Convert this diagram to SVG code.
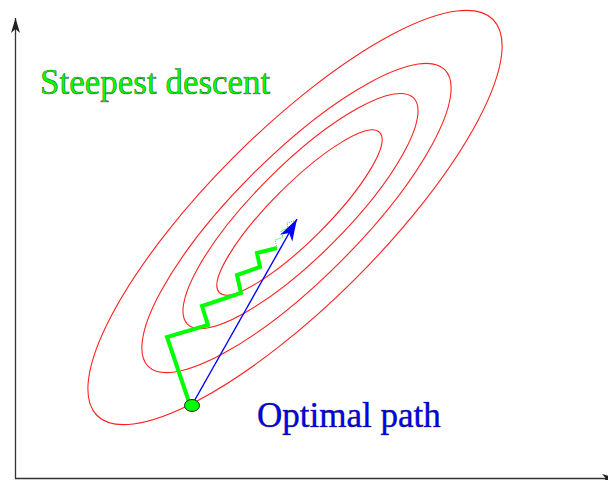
<svg xmlns="http://www.w3.org/2000/svg" width="608" height="480" viewBox="0 0 608 480">
<style>
.contour{fill:none;stroke:#ff2020;stroke-width:1.1}
.axis{fill:none;stroke:#333;stroke-width:1.3}
.lbl{font-family:"Liberation Serif","Times New Roman",serif;font-size:35px;stroke:#000;stroke-width:0.6;stroke-opacity:0.6}
</style>
<defs>
<marker id="dart" viewBox="-24 -10 26 20" markerWidth="26" markerHeight="20" refX="0" refY="0" orient="auto" markerUnits="userSpaceOnUse">
<path d="M0,0 L-22,-7 L-16,0 L-22,7 Z" fill="#0000ff"/>
</marker>
<marker id="axdart" viewBox="-18 -6 20 12" markerWidth="20" markerHeight="12" refX="0" refY="0" orient="auto" markerUnits="userSpaceOnUse">
<path d="M0,0 L-15,-4.5 L-11,0 L-15,4.5 Z" fill="#222"/>
</marker>
</defs>
<g id="axes">
<line class="axis" x1="15.5" y1="478.5" x2="15.5" y2="18" marker-end="url(#axdart)"/>
<line class="axis" x1="15" y1="478.5" x2="617" y2="478.5" marker-end="url(#axdart)"/>
</g>
<g id="contours">
<ellipse class="contour" cx="295" cy="217.5" rx="280" ry="86" transform="rotate(-45 295 217.5)"/>
<ellipse class="contour" cx="296.5" cy="218" rx="209.7" ry="62" transform="rotate(-45 296.5 218)"/>
<ellipse class="contour" cx="300.5" cy="211" rx="159.9" ry="45.5" transform="rotate(-45 300.5 211)"/>
<ellipse class="contour" cx="299.5" cy="212.5" rx="113.3" ry="28" transform="rotate(-45 299.5 212.5)"/>
</g>
<g id="connectors">
<polyline id="steepest-path" points="190,405 167,337 208,325 202,306 241,293 237,275 260,267 257,253 277,248" fill="none" stroke="#00ff00" stroke-width="4" stroke-linejoin="miter"/>
<polyline id="steepest-tail" points="277,248 275,240 283,237 281,231 288,228 287,223 294,221" fill="none" stroke="#00ff00" stroke-width="1" stroke-dasharray="1,1"/>
<line id="optimal-path" x1="192" y1="405" x2="297" y2="219" stroke="#0000ff" stroke-width="1.4" marker-end="url(#dart)"/>
</g>
<g id="start-point">
<ellipse cx="192" cy="405.5" rx="7.5" ry="6" fill="#00ff00" stroke="#222" stroke-width="1"/>
</g>
<g id="label-steepest">
<text class="lbl" x="40" y="94" fill="#00ff00">Steepest descent</text>
</g>
<g id="label-optimal">
<text class="lbl" x="257" y="427" fill="#0000ff">Optimal path</text>
</g>
</svg>
